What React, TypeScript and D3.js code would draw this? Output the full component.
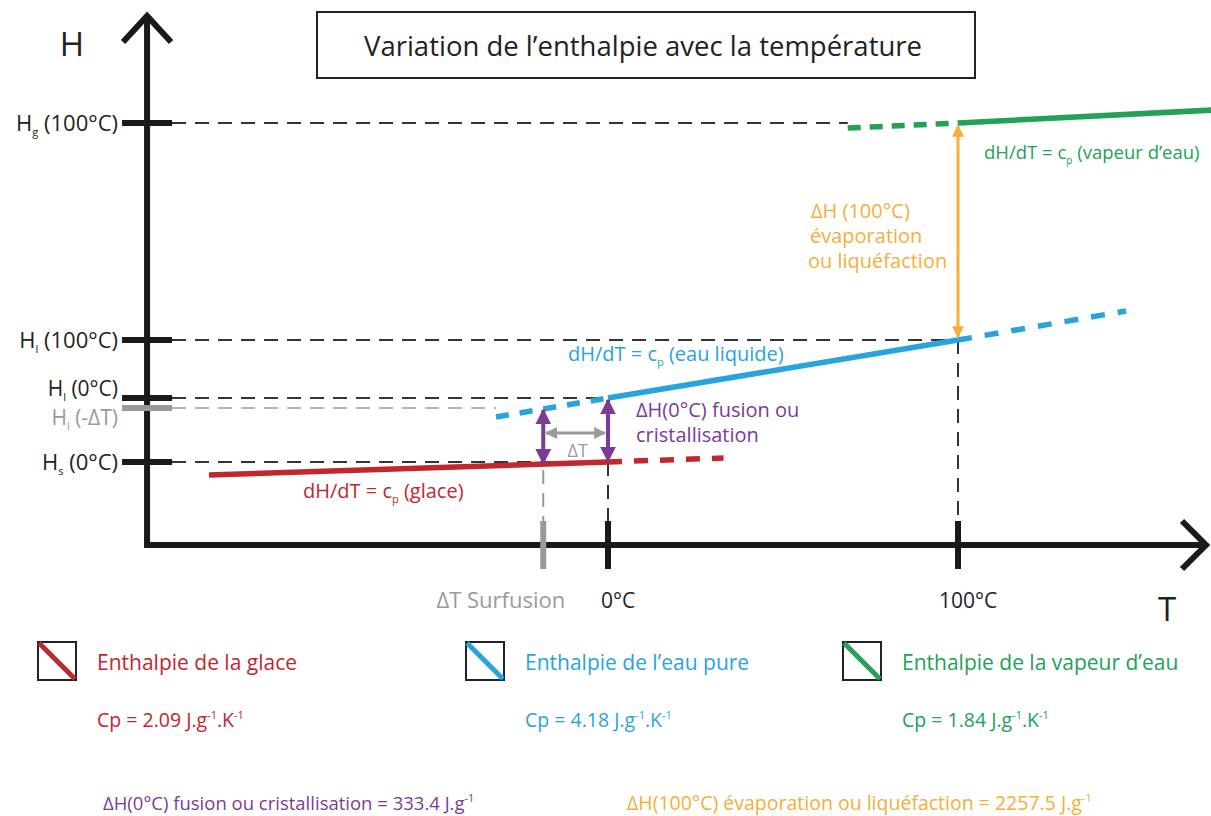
import * as d3 from "d3";

// phase lines, in (T °C, schematic H units)
const iceSolid: [number, number][] = [[-114, 70], [0, 83]];
const iceDashed: [number, number][] = [[0, 83], [33, 87]];
const liquidSolid: [number, number][] = [[0, 147], [100, 205]];
const liquidDashLeft: [number, number][] = [[-32, 128], [0, 147]];
const liquidDashRight: [number, number][] = [[100, 205], [148, 234]];
const vaporSolid: [number, number][] = [[100, 422], [173, 435]];
const vaporDashed: [number, number][] = [[68.5, 417], [100, 422]];

// axis reference values
const surfusionT = -18.5;
const tTicks = [0, 100];
const tTickLabels = ["0°C", "100°C"];
const hS0 = 83;
const hLneg = 137;
const hL0 = 147;
const hL100 = 205;
const hG100 = 422;

const legendNames = ["Enthalpie de la glace", "Enthalpie de l’eau pure", "Enthalpie de la vapeur d’eau"];
const legendCp = ["2.09", "4.18", "1.84"];

const RED = "#c1272d";
const BLUE = "#29a3dc";
const GREEN = "#22a157";
const ORANGE = "#f5ae3a";
const PURPLE = "#7b3b96";
const GRAY = "#9a9a9a";
const FONT = "'Open Sans', 'Noto Sans', sans-serif";

export default function App() {
  const width = 1211;
  const height = 816;

  const x = d3.scaleLinear().domain([0, 100]).range([608, 958]);
  const y = d3.scaleLinear().domain([0, 530]).range([545, 15]);
  const yAxisX = x(-131.7);
  const xAxisY = y(0);

  const line = d3
    .line<[number, number]>()
    .x((d) => x(d[0]))
    .y((d) => y(d[1]));

  const hTicks = [
    { h: hG100, sub: "g", rest: " (100°C)", color: "#222", dashTo: vaporDashed[0][0], dashColor: "#333" },
    { h: hL100, sub: "l", rest: " (100°C)", color: "#222", dashTo: 100, dashColor: "#333" },
    { h: hL0, sub: "l", rest: " (0°C)", color: "#222", dashTo: 0, dashColor: "#333" },
    { h: hLneg, sub: "l", rest: " (-ΔT)", color: GRAY, dashTo: liquidDashLeft[0][0], dashColor: GRAY },
    { h: hS0, sub: "s", rest: " (0°C)", color: "#222", dashTo: 0, dashColor: "#333" },
  ];
  const labelDy = [0, 0, -10, 9, 0];
  const labelSize = [22, 22, 21, 21, 22];

  const legendColors = [RED, BLUE, GREEN];
  const legendX = [38, 466, 843];

  const hS_at_surf = 83 - (18.5 * 13) / 114; // ice line at surfusion temperature

  return (
    <svg
      width={width}
      height={height}
      style={{ position: "absolute", left: 0, top: 0, background: "#fff" }}
      fontFamily={FONT}
    >
      <defs>
        {[
          ["arrP", PURPLE],
          ["arrO", ORANGE],
          ["arrG", GRAY],
        ].map(([id, c]) => (
          <marker
            key={id}
            id={id}
            viewBox="0 0 10 10"
            refX="9"
            refY="5"
            markerWidth="4"
            markerHeight="4"
            orient="auto-start-reverse"
          >
            <path d="M0,0 L10,5 L0,10 z" fill={c} />
          </marker>
        ))}
      </defs>

      {/* title */}
      <rect x={317} y={12} width={658} height={66} fill="none" stroke="#222" strokeWidth={2} />
      <text x={643} y={56} textAnchor="middle" fontSize={27.5} fill="#222">
        Variation de l’enthalpie avec la température
      </text>

      {/* horizontal reference dashes */}
      {hTicks.map((t, i) => (
        <line
          key={"hd" + i}
          x1={yAxisX + 25}
          x2={x(t.dashTo)}
          y1={y(t.h)}
          y2={y(t.h)}
          stroke={t.dashColor}
          strokeWidth={t.dashColor === GRAY ? 1.6 : 2}
          strokeDasharray="14 9"
        />
      ))}

      {/* vertical reference dashes */}
      <line x1={x(0)} x2={x(0)} y1={y(hS0)} y2={xAxisY} stroke="#333" strokeWidth={2} strokeDasharray="14 9" />
      <line x1={x(100)} x2={x(100)} y1={y(hL100)} y2={xAxisY} stroke="#333" strokeWidth={2} strokeDasharray="14 9" />
      <line x1={x(surfusionT)} x2={x(surfusionT)} y1={y(hS_at_surf) + 6} y2={xAxisY} stroke={GRAY} strokeWidth={2} strokeDasharray="14 9" />

      {/* axes */}
      <line x1={yAxisX} x2={yAxisX} y1={xAxisY} y2={y(528)} stroke="#1a1a1a" strokeWidth={6} />
      <path
        d={`M${yAxisX - 24},${y(503)} L${yAxisX},${y(529)} L${yAxisX + 24},${y(503)}`}
        fill="none"
        stroke="#1a1a1a"
        strokeWidth={6}
      />
      <line x1={yAxisX - 3} x2={1204} y1={xAxisY} y2={xAxisY} stroke="#1a1a1a" strokeWidth={6} />
      <path
        d={`M1182,${xAxisY - 24} L1206,${xAxisY} L1182,${xAxisY + 24}`}
        fill="none"
        stroke="#1a1a1a"
        strokeWidth={6}
      />
      <text x={72} y={56} textAnchor="middle" fontSize={33} fill="#222">H</text>
      <text x={1167} y={621} textAnchor="middle" fontSize={33} fill="#222">T</text>

      {/* y ticks */}
      {hTicks.map((t, i) => (
        <g key={"ht" + i}>
          <line
            x1={yAxisX - 25}
            x2={yAxisX + 25}
            y1={y(t.h)}
            y2={y(t.h)}
            stroke={t.color === GRAY ? GRAY : "#1a1a1a"}
            strokeWidth={6}
          />
          <text
            x={yAxisX - 29}
            y={y(t.h) + 8 + labelDy[i]}
            textAnchor="end"
            fontSize={labelSize[i]}
            fill={t.color}
          >
            H
            <tspan dy={5} fontSize={11}>{t.sub}</tspan>
            <tspan dy={-5}>{t.rest}</tspan>
          </text>
        </g>
      ))}

      {/* x ticks */}
      {tTicks.map((t, i) => (
        <g key={"tt" + i}>
          <line x1={x(t)} x2={x(t)} y1={xAxisY - 24} y2={xAxisY + 24} stroke="#1a1a1a" strokeWidth={6} />
          <text x={x(t) + 10} y={608} textAnchor="middle" fontSize={21} fill="#222">
            {tTickLabels[i]}
          </text>
        </g>
      ))}
      <line x1={x(surfusionT)} x2={x(surfusionT)} y1={xAxisY - 24} y2={xAxisY + 24} stroke={GRAY} strokeWidth={6} />
      <text x={x(surfusionT) + 22} y={608} textAnchor="end" fontSize={22} fill={GRAY}>
        ΔT Surfusion
      </text>

      {/* phase lines */}
      <path d={line(vaporDashed) ?? ""} fill="none" stroke={GREEN} strokeWidth={5.5} strokeDasharray="13 9" />
      <path d={line(vaporSolid) ?? ""} fill="none" stroke={GREEN} strokeWidth={5.5} />
      <path d={line(liquidDashLeft) ?? ""} fill="none" stroke={BLUE} strokeWidth={5.5} strokeDasharray="13 11" />
      <path d={line(liquidDashRight) ?? ""} fill="none" stroke={BLUE} strokeWidth={5.5} strokeDasharray="14 13" />
      <path d={line(liquidSolid) ?? ""} fill="none" stroke={BLUE} strokeWidth={5.5} />
      <path d={line(iceDashed) ?? ""} fill="none" stroke={RED} strokeWidth={5.5} strokeDasharray="14 12" />
      <path d={line(iceSolid) ?? ""} fill="none" stroke={RED} strokeWidth={5.5} />

      {/* latent heat arrows */}
      <line
        x1={x(100)}
        x2={x(100)}
        y1={y(hL100) - 3}
        y2={y(hG100) + 3}
        stroke={ORANGE}
        strokeWidth={3}
        markerStart="url(#arrO)"
        markerEnd="url(#arrO)"
      />
      <line
        x1={x(0)}
        x2={x(0)}
        y1={y(hS0) - 1}
        y2={y(hL0) + 2}
        stroke={PURPLE}
        strokeWidth={4}
        markerStart="url(#arrP)"
        markerEnd="url(#arrP)"
      />
      <line
        x1={x(surfusionT)}
        x2={x(surfusionT)}
        y1={y(hS_at_surf) - 1}
        y2={y(hLneg) + 2}
        stroke={PURPLE}
        strokeWidth={4}
        markerStart="url(#arrP)"
        markerEnd="url(#arrP)"
      />
      <line
        x1={x(surfusionT) + 3}
        x2={x(0) - 3}
        y1={y((hS0 + hLneg) / 2) - 2}
        y2={y((hS0 + hLneg) / 2) - 2}
        stroke={GRAY}
        strokeWidth={3}
        markerStart="url(#arrG)"
        markerEnd="url(#arrG)"
      />
      <text x={x(surfusionT / 2) + 2} y={457} textAnchor="middle" fontSize={18} fill={GRAY}>ΔT</text>

      {/* annotations */}
      <text x={303} y={498} fontSize={20} fill={RED}>
        dH/dT = c<tspan dy={5} fontSize={11}>p</tspan>
        <tspan dy={-5}> (glace)</tspan>
      </text>
      <text x={568} y={361} fontSize={20} fill={BLUE}>
        dH/dT = c<tspan dy={5} fontSize={11}>p</tspan>
        <tspan dy={-5}> (eau liquide)</tspan>
      </text>
      <text x={984} y={159} fontSize={18.5} fill={GREEN}>
        dH/dT = c<tspan dy={5} fontSize={10}>p</tspan>
        <tspan dy={-5}> (vapeur d’eau)</tspan>
      </text>
      <text fontSize={20} fill={ORANGE}>
        <tspan x={811} y={218}>ΔH (100°C)</tspan>
        <tspan x={810} dy={25}>évaporation</tspan>
        <tspan x={808} dy={25}>ou liquéfaction</tspan>
      </text>
      <text fontSize={20} fill={PURPLE}>
        <tspan x={636} y={417}>ΔH(0°C) fusion ou</tspan>
        <tspan x={636} dy={25}>cristallisation</tspan>
      </text>

      {/* legend */}
      {legendNames.map((name, i) => (
        <g key={"lg" + i}>
          <rect x={legendX[i]} y={642} width={38} height={38} fill="none" stroke="#222" strokeWidth={2} />
          <line
            x1={legendX[i] + 1}
            y1={643}
            x2={legendX[i] + 37}
            y2={679}
            stroke={legendColors[i]}
            strokeWidth={5}
          />
          <text x={legendX[i] + 59} y={670} fontSize={21} fill={legendColors[i]}>
            {name}
          </text>
          <text x={legendX[i] + 59} y={727} fontSize={19.5} fill={legendColors[i]}>
            Cp = {legendCp[i]} J.g
            <tspan dy={-8} fontSize={11}>-1</tspan>
            <tspan dy={8}>.K</tspan>
            <tspan dy={-8} fontSize={11}>-1</tspan>
          </text>
        </g>
      ))}

      {/* latent heat values */}
      <text x={103} y={810} fontSize={18.5} fill={PURPLE}>
        ΔH(0°C) fusion ou cristallisation = 333.4 J.g
        <tspan dy={-8} fontSize={11}>-1</tspan>
      </text>
      <text x={627} y={810} fontSize={19.5} fill={ORANGE}>
        ΔH(100°C) évaporation ou liquéfaction = 2257.5 J.g
        <tspan dy={-8} fontSize={11}>-1</tspan>
      </text>
    </svg>
  );
}
